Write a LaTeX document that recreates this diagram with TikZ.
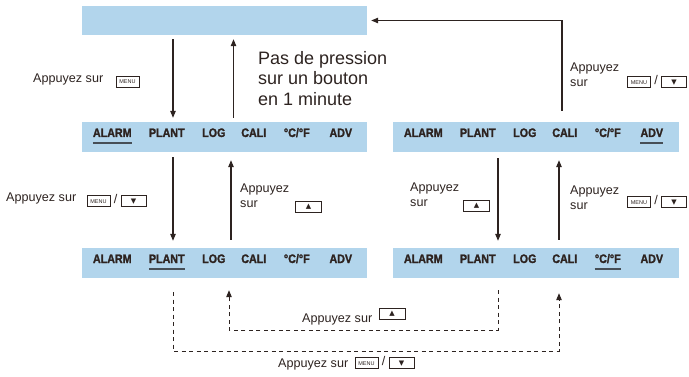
\documentclass[tikz,border=0pt]{standalone}
\usepackage{fontspec}
\setmainfont{Liberation Sans}
\newfontfamily\barfont[FakeStretch=0.87, BoldFeatures={FakeBold=1.6}]{Liberation Sans}
\newfontfamily\symfont{DejaVu Sans}
\usetikzlibrary{arrows.meta, positioning}

\definecolor{barblue}{RGB}{178,213,236}
\definecolor{ink}{RGB}{45,35,32}
\definecolor{selgrey}{RGB}{70,78,86}

% key pictograms
\newcommand\keybox[2]{\tikz[baseline=-2.5pt]{\node[inner sep=0pt, minimum width=#1, minimum height=11pt, draw=ink, line width=0.5pt] (kb) {#2};
  \draw[ink, line width=1pt] (kb.south west) -- (kb.south east) -- (kb.north east);}}
\newcommand\menukey{\keybox{23pt}{\fontsize{5.5}{5.5}\selectfont MENU}}
\newcommand\downkey{\keybox{25pt}{\symfont\fontsize{7}{7}\selectfont ▼}}
\newcommand\upkey{\keybox{26pt}{\symfont\fontsize{7}{7}\selectfont ▲}}

% menu entries of one display bar, #2 = underlined entry
\newcommand\barlabels[2]{%
  \foreach \dx/\lbl [count=\i] in {30.5/ALARM,85/PLANT,132/LOG,172/CALI,215/{°C/°F},259/ADV}{
    \node[item] (#1-\i) at ([xshift=\dx pt]#1.west) {\lbl};
    \ifnum\i=#2 \draw[selline] ([yshift=-6pt]#1-\i.base west) -- ([yshift=-6pt]#1-\i.base east);\fi
  }}

\begin{document}
\begin{tikzpicture}[
  x=1pt, y=-1pt,
  bar/.style={rectangle, fill=barblue, minimum width=285pt, minimum height=30pt, inner sep=0pt},
  item/.style={anchor=base, inner sep=0pt, font=\barfont\bfseries\fontsize{12.3}{14}\selectfont, text=ink},
  selline/.style={draw=selgrey, line width=1.4pt},
  arr/.style={draw=ink, line width=1.1pt, -{Triangle[length=7pt, width=5.5pt]}},
  dasharr/.style={arr, line width=0.9pt, dash pattern=on 4pt off 3.5pt},
  lbl/.style={anchor=base west, inner sep=0pt, font=\fontsize{12.6}{15}\selectfont, text=ink},
  lbltwo/.style={anchor=north west, inner sep=0pt, align=left, font=\fontsize{12.6}{15}\selectfont, text=ink},
  keys/.style={inner sep=0pt, text=ink, font=\fontsize{12.6}{15}\selectfont}
]
\useasboundingbox (0,0) rectangle (689,377);

% displays
\node[bar, minimum height=29pt] (disp) at (224.5,20.5) {};
\node[bar] (barA) at (224.5,137) {};
\node[bar, minimum width=286pt] (barB) at (536,137) {};
\node[bar] (barC) at (224.5,263) {};
\node[bar, minimum width=286pt] (barD) at (536,263) {};

\barlabels{barA}{1}
\barlabels{barB}{6}
\barlabels{barC}{2}
\barlabels{barD}{5}

% arrow columns and dashed rows
\coordinate (c1) at (173,0);
\coordinate (c2) at (233.5,0);
\coordinate (c3) at (231,0);
\coordinate (c4) at (498,0);
\coordinate (c5) at (562,0);
\coordinate (c6) at (559,0);
\coordinate (c7) at (229,0);
\coordinate (lo1) at (0,330);
\coordinate (lo2) at (0,351);

\draw[arr] ([yshift=-4pt]disp.south -| c1) -- ([yshift=4pt]barA.north -| c1);
\draw[arr] ([yshift=4pt]barA.north -| c2) -- ([yshift=-4pt]disp.south -| c2);
\draw[arr] ([yshift=11pt]barB.north -| c5) |- ([xshift=4pt]disp.east);

\draw[arr] ([yshift=-5pt]barA.south -| c1) -- ([yshift=7pt]barC.north -| c1);
\draw[arr] ([yshift=8pt]barC.north -| c3) -- ([yshift=-8pt]barA.south -| c3);
\draw[arr] ([yshift=-6pt]barB.south -| c4) -- ([yshift=7pt]barD.north -| c4);
\draw[arr] ([yshift=8pt]barD.north -| c6) -- ([yshift=-8pt]barB.south -| c6);

\draw[dasharr] ([yshift=-14pt]barC.south -| c1) -- (c1 |- lo2) -- (c6 |- lo2) -- ([yshift=-15pt]barD.south -| c6);
\draw[dasharr] ([yshift=-12pt]barD.south -| c4) -- (c4 |- lo1) -- (c7 |- lo1) -- ([yshift=-12pt]barC.south -| c7);

% labels
\node[lbl] (t1) at (33,83) {Appuyez sur};
\node[keys] (k1) at (127.5,81.5) {\menukey};
\node[anchor=north west, inner sep=0pt, align=left, text=ink,
  font=\fontsize{18}{20.5}\selectfont] (pas) at (258,51) {Pas de pression\\sur un bouton\\en 1 minute};
\node[lbltwo] (t6) at (570,63) {Appuyez\\sur};
\node[keys] (k6) at (657,82) {\menukey\hspace{3pt}/\hspace{3pt}\downkey};

\node[lbl] (t2) at (6,202) {Appuyez sur};
\node[keys] (k2) at (116.5,201) {\menukey\hspace{3pt}/\hspace{3pt}\downkey};
\node[lbltwo] (t3) at (240,184) {Appuyez\\sur};
\node[keys] (k3) at (308.5,207) {\upkey};
\node[lbltwo] (t4) at (410,183) {Appuyez\\sur};
\node[keys] (k4) at (476.5,205.5) {\upkey};
\node[lbltwo] (t5) at (570,186) {Appuyez\\sur};
\node[keys] (k5) at (657,202) {\menukey\hspace{3pt}/\hspace{3pt}\downkey};

\node[lbl] (t7) at (302,323) {Appuyez sur};
\node[keys] (k7) at (392,314) {\upkey};
\node[lbl] (t8) at (278,367) {Appuyez sur};
\node[keys] (k8) at (384.5,363) {\menukey\hspace{3pt}/\hspace{3pt}\downkey};
\end{tikzpicture}
\end{document}
